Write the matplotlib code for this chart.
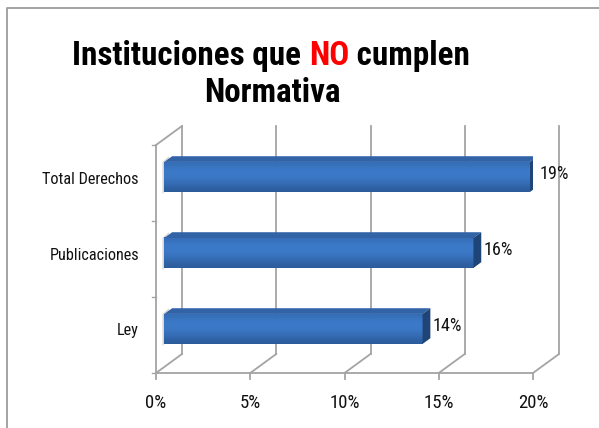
import matplotlib.pyplot as plt
import numpy as np
from matplotlib.patches import Polygon
from matplotlib.lines import Line2D
from matplotlib.colors import LinearSegmentedColormap

categories = ['Ley', 'Publicaciones', 'Total Derechos']
values = [13.7, 16.4, 19.4]
labels = ['14%', '16%', '19%']
xticks = [0, 5, 10, 15, 20]
xticklabels = ['0%', '5%', '10%', '15%', '20%']

plt.rcParams['font.family'] = ['Roboto Condensed', 'Liberation Sans', 'DejaVu Sans']

W, H = 599, 428
fig = plt.figure(figsize=(W / 100, H / 100), dpi=100)
fig.patch.set_facecolor('white')
# chart frame (only left and top edges are inside the picture)
fig.add_artist(Line2D([6.5 / W, 6.5 / W, 1], [0, 1 - 7.5 / H, 1 - 7.5 / H],
                      transform=fig.transFigure, color='#9c9c9c', lw=1.3))
rend = fig.canvas.get_renderer()


def fit_size(s, target, **kw):
    t = fig.text(0, 0, s, fontsize=10, **kw)
    w = t.get_window_extent(rend).width
    t.remove()
    return 10 * target / w


lab_fs = fit_size('Publicaciones', 90)
tick_fs = fit_size('20%', 30)
val_fs = fit_size('16%', 29)
title_fs = fit_size('Instituciones que NO cumplen', 397, fontweight='bold')

# front plane of the 3d box, in pixels
x0, x1, yb, yt = 156, 533, 373, 145
ax = fig.add_axes([x0 / W, (H - yb) / H, (x1 - x0) / W, (yb - yt) / H])
ax.set_xlim(0, 20)
ax.set_ylim(0, 3)
ax.axis('off')

px_x = (x1 - x0) / 20.0
px_y = (yb - yt) / 3.0
DX = 26 / px_x   # depth offset in data units
DY = 19 / px_y
grid = '#a4a4a4'

# walls / gridlines
for t, tl in zip(xticks, xticklabels):
    ax.plot([t + DX, t + DX], [DY, 3 + DY], color=grid, lw=1.3, clip_on=False, zorder=1)
    ax.plot([t, t + DX], [0, DY], color=grid, lw=1.3, clip_on=False, zorder=1)
    ax.plot([t, t], [0, -6 / px_y], color=grid, lw=1.3, clip_on=False, zorder=1)
    ax.text(t, -30 / px_y, tl, ha='center', va='center', fontsize=tick_fs, color='#111111')
ax.plot([0, 0], [0, 3], color=grid, lw=1.3, clip_on=False, zorder=1)
ax.plot([0, DX], [3, 3 + DY], color=grid, lw=1.3, clip_on=False, zorder=1)
ax.plot([0, 20], [0, 0], color=grid, lw=1.3, clip_on=False, zorder=1)
for k in range(4):
    ax.plot([-4 / px_x, 0], [k, k], color=grid, lw=1.0, clip_on=False, zorder=1)

# bars
d0, d1 = 0.32, 0.62
h = 30 / px_y
centers = np.arange(len(categories)) + 0.5 + d0 * DY
left = d0 * DX
dd = d1 - d0
ax.barh(centers, values, height=h, left=left, color='#3a78c6', zorder=3)

# front face shading, top row first
grad = np.array([0.55, 0.85, 0.85, 0.7, 0.45, 0.1]).reshape(-1, 1)
cmap = LinearSegmentedColormap.from_list('b', ['#2a5896', '#3f80d2'])
for c, v in zip(centers, values):
    ax.imshow(grad, cmap=cmap, aspect='auto', interpolation='bicubic', vmin=0, vmax=1,
              extent=[left, left + v, c - h / 2, c + h / 2], zorder=3.5)
    top = c + h / 2
    bot = c - h / 2
    # shadow on the left wall
    ax.add_patch(Polygon([(left - 0.1, bot - 0.03), (left - 0.1, top), (left + dd * DX * 0.6, top + dd * DY),
                          (left + dd * DX * 0.6, bot + dd * DY)], closed=True,
                         facecolor='#d8d8d8', edgecolor='none', zorder=2))
    ax.add_patch(Polygon([(left, top), (left + v, top), (left + v + dd * DX, top + dd * DY),
                          (left + dd * DX, top + dd * DY)], closed=True,
                         facecolor='#3263a6', edgecolor='none', zorder=4))
    ax.add_patch(Polygon([(left + v, bot), (left + v, top), (left + v + dd * DX, top + dd * DY),
                          (left + v + dd * DX, bot + dd * DY)], closed=True,
                         facecolor='#1f4478', edgecolor='none', zorder=4))

for c, v, lab in zip(centers, values, labels):
    ax.text(left + v + dd * DX + 0.1, c + 0.04, lab, ha='left', va='center',
            fontsize=val_fs, color='#111111', zorder=5)

for i, cat in enumerate(categories):
    ax.text(-17 / px_x, i + 0.5 + 4 / px_y, cat, ha='right', va='center',
            fontsize=lab_fs, color='#111111')

# title, three pieces so "NO" can be red
parts = [('Instituciones que ', 'black'), ('NO', '#ff0000'), (' cumplen', 'black')]
widths = []
for s, col in parts:
    t = fig.text(0, 0, s, fontsize=title_fs, fontweight='bold')
    widths.append(t.get_window_extent(rend).width)
    t.remove()
xs = 271 - sum(widths) / 2
for (s, col), w in zip(parts, widths):
    fig.text(xs / W, 1 - 56 / H, s, ha='left', va='center', fontsize=title_fs,
             fontweight='bold', color=col)
    xs += w
fig.text(272 / W, 1 - 93 / H, 'Normativa', ha='center', va='center',
         fontsize=title_fs, fontweight='bold', color='black')

fig.savefig('out.png', dpi=100)
